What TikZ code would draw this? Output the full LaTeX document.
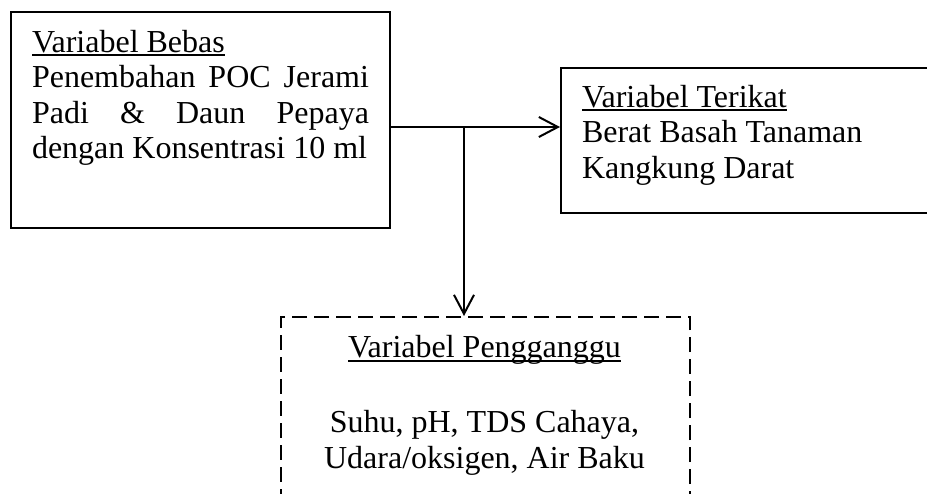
\documentclass[tikz,border=0pt]{standalone}
\usepackage{fontspec}
\setmainfont{Liberation Serif}
\usetikzlibrary{arrows.meta}

\newcommand{\garisbawah}[1]{\setbox0\hbox{#1}\rlap{\rule[-0.14em]{\wd0}{0.07em}}\box0}

\begin{document}
\begin{tikzpicture}
[x=1pt, y=-1pt, line width=2pt,
 kotak/.style={draw, rectangle, inner sep=0pt, anchor=north west},
 teks/.style={inner sep=0pt, font=\fontsize{32}{35.5}\selectfont},
 panah/.style={-{Straight Barb[length=19pt,width=20pt]}}]
\useasboundingbox (0,0) rectangle (927,493);
\clip (0,0) rectangle (927,493);

\node[kotak, minimum width=379, minimum height=216] (bebas) at (10,11) {};
\node[teks, anchor=base west, text width=337, align=justify] (bebas-isi) at (31,52)
  {\garisbawah{Variabel Bebas}\\ Penembahan POC Jerami\linebreak Padi \& Daun Pepaya\linebreak dengan Konsentrasi 10 ml};

\node[kotak, minimum width=400, minimum height=145] (terikat) at (560,67) {};
\node[teks, anchor=base west, align=left] (terikat-isi) at (581,178)
  {\garisbawah{Variabel Terikat}\\ Berat Basah Tanaman\\ Kangkung Darat};

\node[kotak, dash pattern=on 15pt off 7pt, minimum width=409, minimum height=220] (ganggu) at (280,316) {};
\node[teks, anchor=base, align=center] (ganggu-isi) at (484.5,468)
  {\garisbawah{Variabel Pengganggu}\\[39.5pt] Suhu, pH, TDS Cahaya,\\ Udara/oksigen, Air Baku};

\coordinate (cabang) at (464,127);
\draw[panah] (bebas.east |- cabang) -- (terikat.west |- cabang);
\draw[panah] (cabang) -- (cabang |- ganggu.north);
\end{tikzpicture}
\end{document}
